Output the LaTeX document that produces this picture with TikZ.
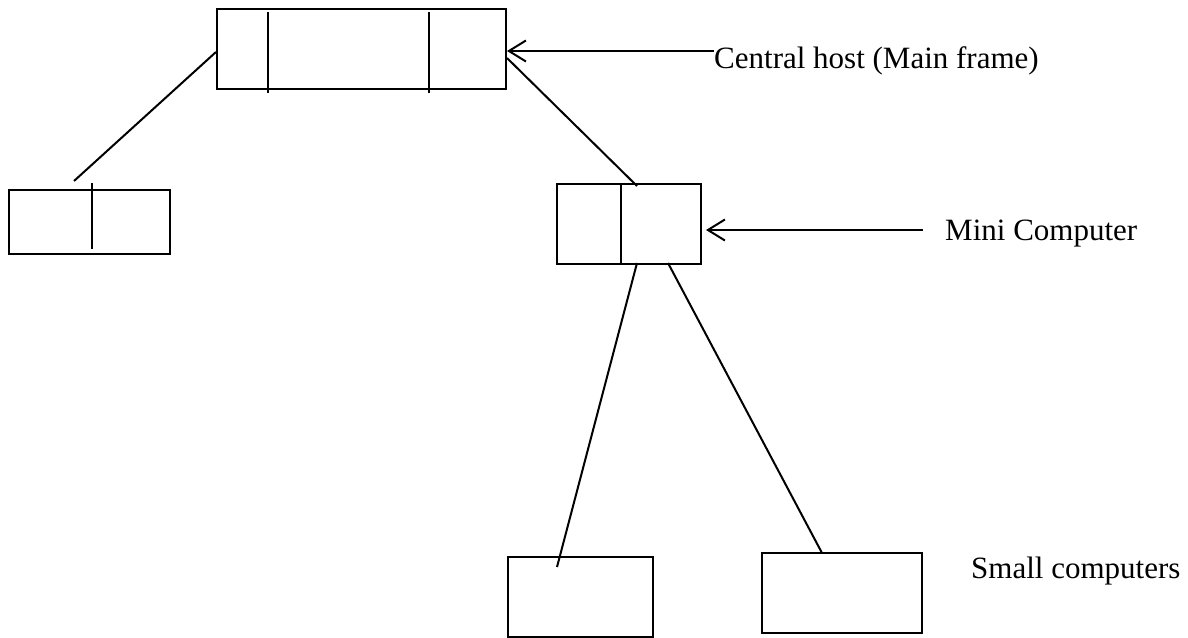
\documentclass[tikz,border=0pt]{standalone}
\usepackage{fontspec}
\setmainfont{Liberation Serif}
\usetikzlibrary{arrows.meta}
\begin{document}
\begin{tikzpicture}[x=1pt,y=-1pt,
  box/.style={draw,line width=2pt,inner sep=0pt,rectangle},
  conn/.style={line width=2pt},
  pointer/.style={line width=2pt,-{Straight Barb[length=17pt,width=21pt,line width=2pt]}},
  lbl/.style={inner sep=0pt,anchor=base west,font=\fontsize{31}{36}\selectfont}]
\useasboundingbox (0,0) rectangle (1188,637);
% boxes
\node[box,minimum width=289pt,minimum height=80pt] (main) at (361.5,49) {};
\node[box,minimum width=161pt,minimum height=64pt] (left) at (89.5,222) {};
\node[box,minimum width=144pt,minimum height=80pt] (mini) at (629,224) {};
\node[box,minimum width=145pt,minimum height=80pt] (s1) at (580.5,597) {};
\node[box,minimum width=160pt,minimum height=80pt] (s2) at (842,593) {};
% dividers
\draw[conn] (268,12) -- (268,93);
\draw[conn] (429,12) -- (429,93);
\draw[conn] (92,183) -- (92,249);
\draw[conn] (621,184) -- (621,264);
% labels
\node[lbl] (lmain) at (714,68) {Central host (Main frame)};
\node[lbl] (lmini) at (945,240) {Mini Computer};
\node[lbl] (lsmall) at (971,578) {Small computers};
% connectors
\coordinate (lfree) at (74,181);
\coordinate (mtop) at (637,186);
\coordinate (s1top) at (557,567);
\draw[conn] (main.west |- 0,52) -- (lfree);
\draw[conn] (main.east |- 0,58) -- (mtop);
\draw[conn] (637,263) -- (s1top);
\draw[conn] (668,263) -- (822,553);
% pointers
\coordinate (p1) at (714,51);
\coordinate (p2) at (923,230);
\draw[pointer] (p1) -- (p1 -| main.east) ;
\draw[pointer,shorten >=4pt] (p2) -- (p2 -| mini.east);
\end{tikzpicture}
\end{document}
